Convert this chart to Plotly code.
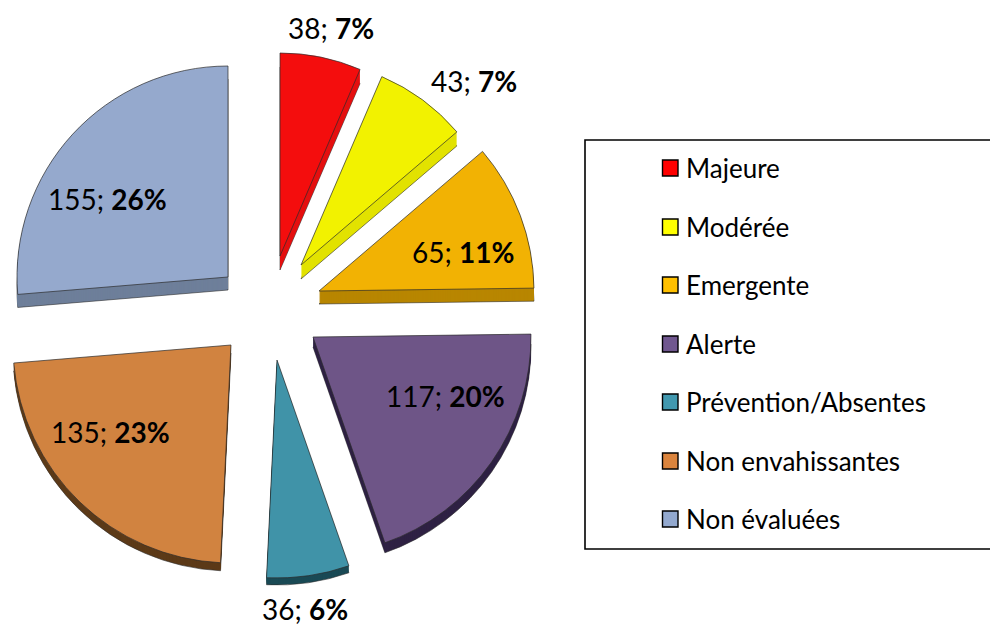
import plotly.graph_objects as go

W, H = 990, 626

categories = ["Majeure", "Modérée", "Emergente", "Alerte", "Prévention/Absentes", "Non envahissantes", "Non évaluées"]
values = [38, 43, 65, 117, 36, 135, 155]
percents = ["7%", "7%", "11%", "20%", "6%", "23%", "26%"]

top_colors = ["#f40d0d", "#f2f200", "#f2b203", "#6e5587", "#4093a8", "#d18340", "#95a9cd"]
side_colors = ["#e41010", "#e2e200", "#b88600", "#2f2244", "#1a4a55", "#5c3a18", "#6e7f9a"]
legend_colors = ["#ff0000", "#ffff00", "#ffc000", "#70578f", "#4198af", "#db843d", "#93a9cf"]

# exploded layout, in pixels: the tip of each slice, its radius and its depth
tip_x = [280, 301, 319, 313, 277, 231, 228]
tip_y = [256, 265, 291, 337, 360, 345, 277]
radius = [203, 205, 215, 218, 218, 218, 211]
depth = [14, 14, 13, 10, 7, 8, 13]

label_x = [331, 474, 463, 445, 305, 110, 107]
label_y = [28, 81, 252, 396, 609, 432, 199]
legend_y = [168, 227, 285, 344, 402, 461, 519]
FONT = "Lato"


def px(x):
    return x / W


def py(y):
    return 1 - y / H


def slice_trace(i, x, y, color, line):
    n = len(values)
    colors = ["rgba(0,0,0,0)"] * n
    colors[i] = color
    widths = [0] * n
    widths[i] = line
    r = radius[i]
    return go.Pie(
        values=values,
        labels=categories,
        sort=False,
        direction="clockwise",
        rotation=0,
        textinfo="none",
        hoverinfo="skip",
        showlegend=False,
        marker=dict(colors=colors, line=dict(color="#2b2b2b", width=widths)),
        domain=dict(x=[max(px(x - r), 0), min(px(x + r), 1)],
                    y=[max(py(y + r), 0), min(py(y - r), 1)]),
    )


traces = []
for i in range(len(values)):
    for d in range(depth[i], 0, -1):
        traces.append(slice_trace(i, tip_x[i], tip_y[i] + d, side_colors[i],
                                  0.6 if d == depth[i] else 0))
    traces.append(slice_trace(i, tip_x[i], tip_y[i], top_colors[i], 0.7))

fig = go.Figure(traces)

annotations = []
for i, v in enumerate(values):
    annotations.append(dict(
        x=px(label_x[i]), y=py(label_y[i]), xref="paper", yref="paper",
        text=f"{v}; <b>{percents[i]}</b>", showarrow=False,
        xanchor="center", yanchor="middle",
        font=dict(family=FONT, size=28, color="#000000"),
    ))

shapes = [dict(type="rect", xref="paper", yref="paper",
               x0=px(585), x1=px(995), y0=py(549), y1=py(140),
               line=dict(color="#000000", width=1.6), fillcolor="rgba(0,0,0,0)")]
for i, name in enumerate(categories):
    yc = legend_y[i]
    shapes.append(dict(type="rect", xref="paper", yref="paper",
                       x0=px(662.5), x1=px(678), y0=py(yc + 8), y1=py(yc - 8),
                       line=dict(color="#000000", width=1.4), fillcolor=legend_colors[i]))
    annotations.append(dict(
        x=px(684), y=py(yc), xref="paper", yref="paper", text=name, showarrow=False,
        xanchor="left", yanchor="middle",
        font=dict(family=FONT, size=26, color="#000000"),
    ))

fig.update_layout(
    width=W, height=H, margin=dict(l=0, r=0, t=0, b=0),
    paper_bgcolor="#ffffff", plot_bgcolor="#ffffff",
    annotations=annotations, shapes=shapes, showlegend=False,
)
fig.write_html("out.html", config={"displayModeBar": False},
               post_script="document.body.style.margin='0';document.body.style.overflow='hidden';")
